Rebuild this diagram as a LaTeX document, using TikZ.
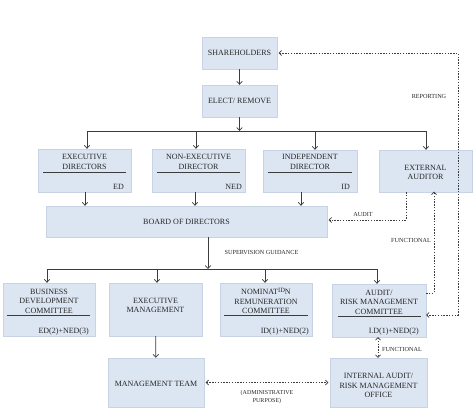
\documentclass[tikz,border=0pt]{standalone}
\usepackage{fontspec}
\setmainfont{Liberation Serif}
\usetikzlibrary{arrows.meta,calc}
\definecolor{boxfill}{RGB}{220,230,242}
\definecolor{boxline}{RGB}{200,212,228}
\definecolor{ln}{RGB}{60,60,60}
\begin{document}
\begin{tikzpicture}[x=1pt,y=-1pt,
 box/.style={fill=boxfill,draw=boxline,line width=0.4pt,inner sep=0pt},
 txt/.style={font=\fontsize{8}{9.5}\selectfont,align=center,text=black!85,inner sep=0pt},
 sm/.style={font=\fontsize{6.2}{7}\selectfont,align=center,text=black!85,inner sep=0pt},
 tiny/.style={font=\fontsize{6}{7.5}\selectfont,align=center,text=black!85,inner sep=0pt},
 arr/.style={draw=ln,line width=0.7pt,-{Straight Barb[length=3pt,width=5.5pt]}},
 bus/.style={draw=ln,line width=0.7pt},
 dotarr/.style={draw=ln,line width=0.7pt,dash pattern=on 1.4pt off 1.4pt},
 tip/.style={-{Straight Barb[length=2.5pt,width=5pt]}},
 tips/.style={{Straight Barb[length=2.5pt,width=5pt]}-{Straight Barb[length=2.5pt,width=5pt]}},
 rule/.style={draw=ln,line width=0.5pt}]
\useasboundingbox (0,0) rectangle (474,410);

% boxes
\node[box,minimum width=75pt,minimum height=32pt] (sh) at (239.5,53) {};
\node[box,minimum width=75pt,minimum height=32pt] (el) at (239.5,101) {};
\node[box,minimum width=93pt,minimum height=43pt] (ed) at (84.5,170.5) {};
\node[box,minimum width=93pt,minimum height=43pt] (ned) at (198.5,170.5) {};
\node[box,minimum width=94pt,minimum height=42pt] (idr) at (310,171) {};
\node[box,minimum width=93pt,minimum height=42pt] (ext) at (425.5,171) {};
\node[box,minimum width=281pt,minimum height=31pt] (bod) at (186.5,221.5) {};
\node[box,minimum width=92pt,minimum height=53pt] (bdc) at (49,309.5) {};
\node[box,minimum width=93pt,minimum height=53pt] (em) at (155.5,309.5) {};
\node[box,minimum width=92pt,minimum height=53pt] (nom) at (266,309.5) {};
\node[box,minimum width=94pt,minimum height=53pt] (aud) at (379,310.5) {};
\node[box,minimum width=96pt,minimum height=49pt] (mt) at (156,382.5) {};
\node[box,minimum width=97pt,minimum height=49pt] (ia) at (378.5,382.5) {};

% texts
\node[txt] (shT) at (sh) {SHAREHOLDERS};
\node[txt] (elT) at (el) {ELECT/ REMOVE};
\node[txt] (edT) at (84.5,162) {EXECUTIVE\\DIRECTORS};
\draw[rule] (43,172) -- (126,172);
\node[txt,anchor=base east] (edL) at (124,189) {ED};
\node[txt] (nedT) at (198.5,162) {NON-EXECUTIVE\\DIRECTOR};
\draw[rule] (157,172) -- (240,172);
\node[txt,anchor=base east] (nedL) at (242,189) {NED};
\node[txt] (idT) at (310,162) {INDEPENDENT\\DIRECTOR};
\draw[rule] (268,172) -- (352,172);
\node[txt,anchor=base east] (idL) at (350,189) {ID};
\node[txt] (extT) at (425.5,172.5) {EXTERNAL\\AUDITOR};
\node[txt] (bodT) at (bod) {BOARD OF DIRECTORS};
\node[txt] (bdcT) at (49,301) {BUSINESS\\DEVELOPMENT\\COMMITTEE};
\draw[rule] (7,315) -- (90,315);
\node[txt,anchor=base east] (bdcL) at (89,333.5) {ED(2)+NED(3)};
\node[txt] (emT) at (155.5,305.5) {EXECUTIVE\\MANAGEMENT};
\node[txt] (nomT) at (266,301) {NOMINAT\raisebox{2.5pt}{\fontsize{6.5}{7}\selectfont ID}N\\REMUNERATION\\COMMITTEE};
\draw[rule] (224,315) -- (308,315);
\node[txt,anchor=base east] (nomL) at (309,333.5) {ID(1)+NED(2)};
\node[txt] (audT) at (379,302) {AUDIT/\\RISK MANAGEMENT\\COMMITTEE};
\draw[rule] (338,316) -- (421,316);
\node[txt,anchor=base east] (audL) at (419,333.5) {I.D(1)+NED(2)};
\node[txt] (mtT) at (156,384) {MANAGEMENT TEAM};
\node[txt] (iaT) at (378.5,385.5) {INTERNAL AUDIT/\\RISK MANAGEMENT\\OFFICE};

% solid connectors
\draw[arr] (sh) -- (el);
\coordinate (t1) at (87,131);
\coordinate (t2) at (196,131);
\coordinate (t3) at (315,131);
\coordinate (t4) at (426,131);
\draw[arr] (el.south) -- (el.south |- t1);
\draw[bus] (t1) -- (t4);
\draw[arr] (t1) -- (t1 |- ed.north);
\draw[arr] (t2) -- (t2 |- ned.north);
\draw[arr] (t3) -- (t3 |- idr.north);
\draw[arr] (t4) -- (t4 |- ext.north);
\coordinate (d1) at (85,0);
\coordinate (d2) at (195,0);
\coordinate (d3) at (301,0);
\draw[arr] (d1 |- ed.south) -- (d1 |- bod.north);
\draw[arr] (d2 |- ned.south) -- (d2 |- bod.north);
\draw[arr] (d3 |- idr.south) -- (d3 |- bod.north);
\coordinate (bm) at (208,269);
\coordinate (c1) at (47,269);
\coordinate (c2) at (157,269);
\coordinate (c3) at (265,269);
\coordinate (c4) at (377,269);
\draw[arr] (bm |- bod.south) -- (bm);
\draw[bus] (c1) -- (c4);
\draw[arr] (c1) -- (c1 |- bdc.north);
\draw[arr] (c2) -- (c2 |- em.north);
\draw[arr] (c3) -- (c3 |- nom.north);
\draw[arr] (c4) -- (c4 |- aud.north);
\draw[arr] (em) -- (mt);
\node[sm] (supT) at (261.5,252) {SUPERVISION GUIDANCE};

% dotted connectors
\coordinate (r1) at (458,53);
\coordinate (r2) at (458,315);
\draw[dotarr,tips,shorten <=1.5pt] (sh.east) -- (r1) -- (r2) -- (r2 -| aud.east);
\node[sm] (repT) at (429,96) {REPORTING};
\coordinate (f1) at (434,293);
\draw[dotarr,tip,shorten >=-0.5pt] (f1 -| aud.east) -- (f1) -- (f1 |- ext.south);
\node[sm] (funT) at (411,240) {FUNCTIONAL};
\coordinate (a1) at (406,220);
\draw[dotarr,tip,shorten >=1.5pt] (a1 |- ext.south) -- (a1) -- (a1 -| bod.east);
\node[sm] (audLab) at (363,214) {AUDIT};
\draw[dotarr,tips] (aud.south -| 378,0) -- (ia.north -| 378,0);
\node[sm,anchor=west] (fun2T) at (382,349) {FUNCTIONAL};
\draw[dotarr,tips,shorten <=1.5pt,shorten >=1.5pt] (mt.east) -- (ia.west);
\node[tiny] (admT) at (267,397) {(ADMINISTRATIVE\\PURPOSE)};
\end{tikzpicture}
\end{document}
